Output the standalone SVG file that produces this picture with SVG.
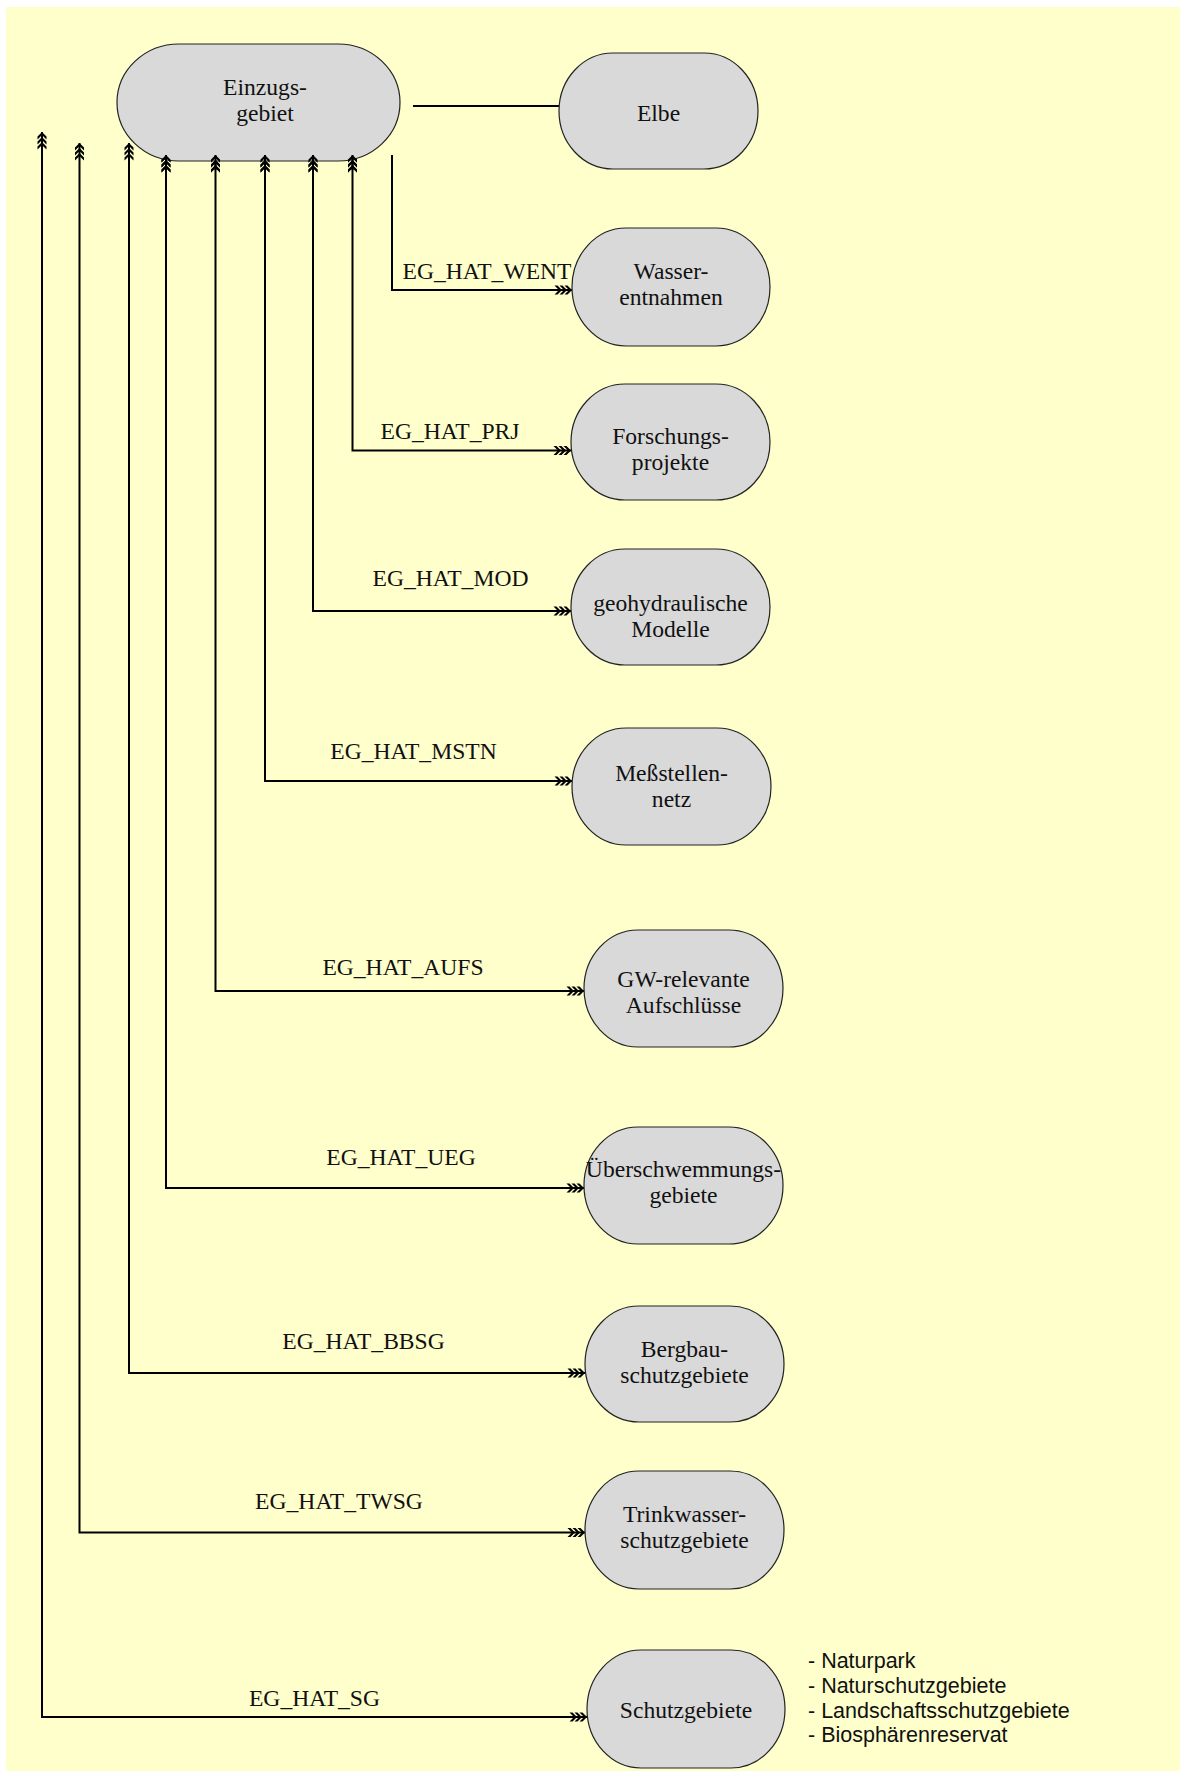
<svg xmlns="http://www.w3.org/2000/svg" width="1180" height="1771" viewBox="0 0 1180 1771">
<style>
.node rect{fill:#D9D9D9;stroke:#222;stroke-width:1.2}
.node text{font-family:"Liberation Serif","Times New Roman",serif;font-size:23.6px;fill:#111;text-anchor:middle}
.lbl{font-family:"Liberation Serif","Times New Roman",serif;font-size:23.6px;fill:#111;text-anchor:middle}
.conn path{fill:none;stroke:#000;stroke-width:2}
.list text{font-family:"Liberation Sans",Arial,sans-serif;font-size:21.5px;fill:#111}
</style>
<defs>
<marker id="tri" markerUnits="userSpaceOnUse" viewBox="-19 -6 20 12" markerWidth="20" markerHeight="12" refX="0" refY="0" orient="auto-start-reverse">
<path fill="#000" d="M0,0 L-4.5,-4.5 L-7.5,-4.5 L-3,0 L-7.5,4.5 L-4.5,4.5 Z M-5,0 L-9.5,-4.5 L-12.5,-4.5 L-8,0 L-12.5,4.5 L-9.5,4.5 Z M-10,0 L-14.5,-4.5 L-17.5,-4.5 L-13,0 L-17.5,4.5 L-14.5,4.5 Z"/>
</marker>
</defs>
<rect x="0" y="0" width="1180" height="1771" fill="#fff"/>
<rect x="6" y="7" width="1174" height="1764" fill="#FFFFCC"/>

<g id="connectors" class="conn">
<path d="M413,106 H559"/>
<path d="M392,155 V290 H572" marker-end="url(#tri)"/>
<path d="M352.5,155 V450.5 H571" marker-start="url(#tri)" marker-end="url(#tri)"/>
<path d="M313,155 V611 H571" marker-start="url(#tri)" marker-end="url(#tri)"/>
<path d="M265,155 V781 H572" marker-start="url(#tri)" marker-end="url(#tri)"/>
<path d="M215.5,155 V991 H584" marker-start="url(#tri)" marker-end="url(#tri)"/>
<path d="M166,155 V1188 H584" marker-start="url(#tri)" marker-end="url(#tri)"/>
<path d="M129,143 V1373 H585" marker-start="url(#tri)" marker-end="url(#tri)"/>
<path d="M79.5,143 V1532.5 H585" marker-start="url(#tri)" marker-end="url(#tri)"/>
<path d="M42,132 V1717 H587" marker-start="url(#tri)" marker-end="url(#tri)"/>
</g>

<g id="einzugsgebiet" class="node">
<rect x="117" y="44" width="283" height="117" rx="62" ry="58.5"/>
<text x="265" y="95">Einzugs-</text>
<text x="265" y="121">gebiet</text>
</g>
<g id="connectors-overlay" class="conn">
<path d="M352.5,170 V155" marker-end="url(#tri)"/>
<path d="M313,170 V155" marker-end="url(#tri)"/>
<path d="M265,170 V155" marker-end="url(#tri)"/>
<path d="M215.5,170 V155" marker-end="url(#tri)"/>
<path d="M166,170 V155" marker-end="url(#tri)"/>
</g>

<g id="elbe" class="node">
<rect x="559" y="53" width="199" height="116" rx="54" ry="58"/>
<text x="658.5" y="121">Elbe</text>
</g>
<g id="wasserentnahmen" class="node">
<rect x="572" y="228" width="198" height="118" rx="54" ry="59"/>
<text x="671" y="279">Wasser-</text>
<text x="671" y="305">entnahmen</text>
</g>
<g id="forschungsprojekte" class="node">
<rect x="571" y="384" width="199" height="116" rx="54" ry="58"/>
<text x="670.5" y="444">Forschungs-</text>
<text x="670.5" y="470">projekte</text>
</g>
<g id="modelle" class="node">
<rect x="571" y="549" width="199" height="116" rx="54" ry="58"/>
<text x="670.5" y="611">geohydraulische</text>
<text x="670.5" y="637">Modelle</text>
</g>
<g id="messstellennetz" class="node">
<rect x="572" y="728" width="199" height="117" rx="54" ry="58.5"/>
<text x="671.5" y="781">Meßstellen-</text>
<text x="671.5" y="807">netz</text>
</g>
<g id="aufschluesse" class="node">
<rect x="584" y="930" width="199" height="117" rx="54" ry="58.5"/>
<text x="683.5" y="987">GW-relevante</text>
<text x="683.5" y="1013">Aufschlüsse</text>
</g>
<g id="ueberschwemmungsgebiete" class="node">
<rect x="584" y="1127" width="199" height="117" rx="54" ry="58.5"/>
<text x="683.5" y="1177">Überschwemmungs-</text>
<text x="683.5" y="1203">gebiete</text>
</g>
<g id="bergbauschutzgebiete" class="node">
<rect x="585" y="1306" width="199" height="116" rx="54" ry="58"/>
<text x="684.5" y="1357">Bergbau-</text>
<text x="684.5" y="1383">schutzgebiete</text>
</g>
<g id="trinkwasserschutzgebiete" class="node">
<rect x="585" y="1471" width="199" height="118" rx="54" ry="59"/>
<text x="684.5" y="1522">Trinkwasser-</text>
<text x="684.5" y="1548">schutzgebiete</text>
</g>
<g id="schutzgebiete" class="node">
<rect x="587" y="1650" width="198" height="118" rx="54" ry="59"/>
<text x="686" y="1718">Schutzgebiete</text>
</g>

<g id="labels">
<text class="lbl" x="487" y="279">EG_HAT_WENT</text>
<text class="lbl" x="450" y="439">EG_HAT_PRJ</text>
<text class="lbl" x="450.5" y="586">EG_HAT_MOD</text>
<text class="lbl" x="413.5" y="759">EG_HAT_MSTN</text>
<text class="lbl" x="403" y="975">EG_HAT_AUFS</text>
<text class="lbl" x="401" y="1165">EG_HAT_UEG</text>
<text class="lbl" x="363.5" y="1349">EG_HAT_BBSG</text>
<text class="lbl" x="339" y="1509">EG_HAT_TWSG</text>
<text class="lbl" x="314.5" y="1706">EG_HAT_SG</text>
</g>

<g id="schutzgebiete-list" class="list">
<text x="808" y="1668">- Naturpark</text>
<text x="808" y="1693">- Naturschutzgebiete</text>
<text x="808" y="1718">- Landschaftsschutzgebiete</text>
<text x="808" y="1742">- Biosphärenreservat</text>
</g>
</svg>
